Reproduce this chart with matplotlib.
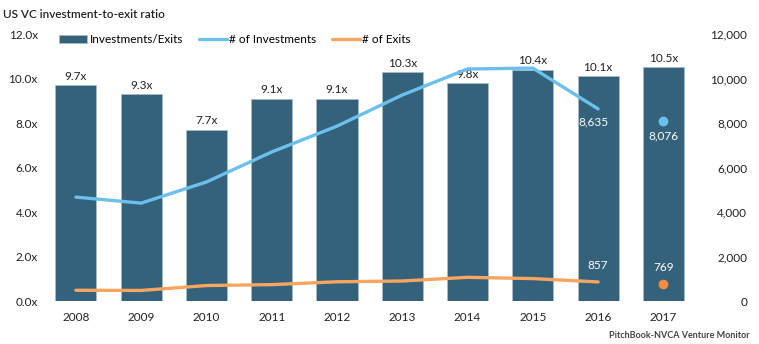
import matplotlib.pyplot as plt
import numpy as np

plt.rcParams['font.family'] = ['Lato', 'DejaVu Sans']

years = ['2008', '2009', '2010', '2011', '2012', '2013', '2014', '2015', '2016', '2017']
ratio = [9.7, 9.3, 7.7, 9.1, 9.1, 10.3, 9.8, 10.4, 10.1, 10.5]
investments = [4670, 4400, 5350, 6700, 7860, 9260, 10430, 10470, 8635]
exits = [482, 474, 695, 736, 864, 899, 1064, 1007, 857]
inv_2017 = 8076
exits_2017 = 769

bar_col = '#34627a'
inv_col = '#6cc0ee'
exit_col = '#f7a55f'
dot_exit_col = '#f58b3e'

x = np.arange(len(years))

fig = plt.figure(figsize=(7.59, 3.44), dpi=100)
ax = fig.add_axes([0.057, 0.125, 0.86, 0.776])
ax2 = ax.twinx()

ax.bar(x, ratio, width=0.63, color=bar_col, edgecolor='#a9bcc8', linewidth=0.6,
       label='Investments/Exits', zorder=2)
for xi, r in zip(x, ratio):
    ax.text(xi, r + 0.15, f'{r:.1f}x', ha='center', va='bottom', fontsize=8.5, color='#222222')

xl = x[:len(investments)]
ax2.plot(xl, investments, color=inv_col, lw=2.4, solid_capstyle='round', label='# of Investments')
ax2.plot(xl, exits, color=exit_col, lw=2.4, solid_capstyle='round', label='# of Exits')
ax2.plot(x[-1], inv_2017, 'o', color=inv_col, ms=6)
ax2.plot(x[-1], exits_2017, 'o', color=dot_exit_col, ms=6)

# white value labels for the last points
ax2.text(xl[-1] - 0.07, investments[-1] - 350, f'{investments[-1]:,}', ha='center', va='top',
         fontsize=8.5, color='white')
ax2.text(x[-1], inv_2017 - 400, f'{inv_2017:,}', ha='center', va='top', fontsize=8.5, color='white')
ax2.text(xl[-1], exits[-1] + 500, f'{exits[-1]:,}', ha='center', va='bottom', fontsize=8.5, color='white')
ax2.text(x[-1], exits_2017 + 500, f'{exits_2017:,}', ha='center', va='bottom', fontsize=8.5, color='white')

ax.set_xlim(-0.5, len(years) - 0.5)
ax.set_ylim(0, 12)
ax2.set_ylim(0, 12000)
ax.set_yticks(np.arange(0, 12.1, 2))
ax.set_yticklabels([f'{v:.1f}x' for v in np.arange(0, 12.1, 2)])
ax2.set_yticks(np.arange(0, 12001, 2000))
ax2.set_yticklabels([f'{v:,}' for v in range(0, 12001, 2000)])
ax.set_xticks(x)
ax.set_xticklabels(years)

for a in (ax, ax2):
    for s in a.spines.values():
        s.set_visible(False)
    a.tick_params(length=0, labelsize=8.5, colors='#222222')
ax.tick_params(axis='x', pad=8)
ax.tick_params(axis='y', pad=4)
ax2.tick_params(axis='y', pad=37)
for lbl in ax2.get_yticklabels():
    lbl.set_horizontalalignment('right')

h1, l1 = ax.get_legend_handles_labels()
h2, l2 = ax2.get_legend_handles_labels()
ax.legend(h1 + h2, l1 + l2, loc='upper left', bbox_to_anchor=(0.008, 1.04), ncol=3, frameon=False,
          fontsize=8.5, handlelength=2.4, handletextpad=0.2, columnspacing=1.3)

fig.text(0.004, 0.975, 'US VC investment-to-exit ratio', fontsize=8.5, fontweight='semibold',
         va='top', ha='left', color='#222222')
fig.text(0.988, 0.012, 'PitchBook-NVCA Venture Monitor', fontsize=6.5, fontweight='bold',
         va='bottom', ha='right', color='#444444')

fig.savefig('out.png', dpi=100)
